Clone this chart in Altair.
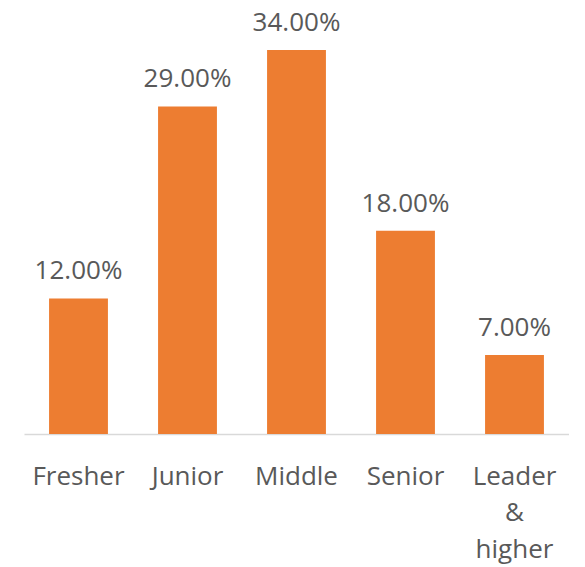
import altair as alt
import pandas as pd

categories = ["Fresher", "Junior", "Middle", "Senior", "Leader & higher"]
values = [12, 29, 34, 18, 7]

df = pd.DataFrame({"level": categories, "pct": values})
df["label"] = [f"{v:.2f}%" for v in values]

FONT = "Open Sans"
GRAY = "#595959"

x = alt.X("level:N", sort=categories,
          scale=alt.Scale(paddingInner=0.46, paddingOuter=0.23),
          axis=alt.Axis(title=None, labelAngle=0, ticks=False, tickSize=0,
                        labelPadding=29, labelFontSize=26, labelFont=FONT,
                        labelColor=GRAY, labelLineHeight=36.5,
                        labelExpr="split(datum.label, ' ')",
                        domainColor="#D9D9D9", domainWidth=1.5))
y = alt.Y("pct:Q", scale=alt.Scale(domain=[0, 37.72], nice=False, zero=True),
          axis=None)

bars = alt.Chart(df).mark_bar(color="#ED7D31").encode(x=x, y=y)
text = alt.Chart(df).mark_text(font=FONT, fontSize=26, color=GRAY,
                               baseline="alphabetic", dy=-19).encode(
    x=x, y=y, text="label:N")

chart = (bars + text).properties(
    width=545, height=426,
    autosize=alt.AutoSizeParams(type="none"),
    padding={"left": 16, "top": 0, "right": 0, "bottom": 132},
).configure_view(stroke=None)

chart.save("out.html", embed_options={"renderer": "svg", "actions": False})
